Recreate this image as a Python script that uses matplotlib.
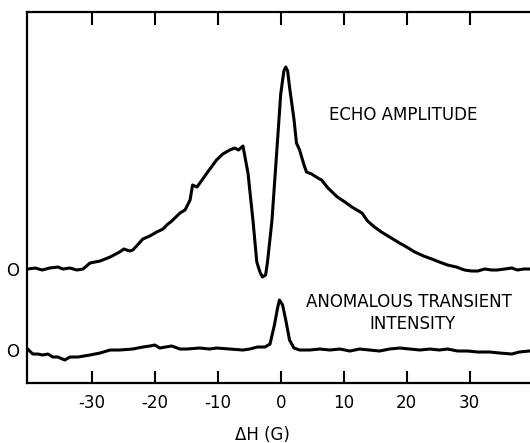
import matplotlib
matplotlib.use("Agg")
import matplotlib.pyplot as plt
import numpy as np

# Echo amplitude trace (field offset in G, amplitude arbitrary units)
echo_x = [-40.2, -39.0, -37.9, -36.7, -35.4, -34.6, -33.5, -32.4, -31.4, -30.3,
          -28.7, -27.1, -25.6, -24.9, -24.0, -23.5, -22.9, -21.9, -20.8, -19.7,
          -18.7, -18.1, -17.3, -16.0, -15.2, -14.4, -14.0, -13.3, -12.5, -11.6,
          -10.2, -9.2, -8.1, -7.3, -6.7, -6.0, -5.2, -4.4, -3.8, -3.3,
          -2.9, -2.4, -2.1, -1.4, -0.6, 0.0, 0.5, 0.8, 1.1, 1.4,
          2.1, 2.5, 3.0, 3.7, 4.1, 4.9, 5.9, 6.5, 7.5, 9.0,
          10.2, 11.3, 12.9, 13.8, 14.9, 16.0, 17.3, 18.6, 20.0, 21.3,
          22.7, 24.0, 25.2, 26.5, 27.9, 29.2, 30.3, 31.3, 32.4, 33.5,
          34.4, 35.6, 36.7, 37.6, 38.6, 39.5]
echo_y = [0, 1, -1, 1, 2, 0, 1, -1, 0, 6,
          8, 12, 17, 20, 18, 19, 23, 30, 33, 37,
          40, 44, 48, 56, 59, 69, 84, 82, 89, 97,
          109, 115, 119, 121, 119, 123, 96, 48, 7, -3,
          -8, -6, 7, 48, 120, 175, 198, 202, 198, 182,
          150, 126, 119, 104, 97, 95, 91, 89, 81, 72,
          67, 62, 56, 48, 42, 37, 32, 27, 22, 17,
          13, 10, 7, 4, 2, -1, -2, -2, 0, -1,
          -1, 0, 1, -1, 0, 0]

# Anomalous transient intensity trace
trans_x = [-40.2, -39.4, -38.6, -37.8, -37.0, -36.2, -35.4, -34.3, -33.5, -32.2,
           -30.3, -28.7, -27.1, -25.6, -23.5, -21.9, -20.8, -20.0, -19.2, -18.3,
           -17.3, -16.0, -14.9, -12.9, -11.3, -10.2, -8.1, -6.0, -4.9, -3.7,
           -2.5, -1.7, -1.0, -0.5, -0.2, 0.3, 0.8, 1.4, 2.1, 3.0,
           4.6, 6.2, 7.8, 9.4, 11.0, 12.5, 14.1, 15.7, 17.3, 18.9,
           20.5, 22.1, 23.7, 25.2, 26.5, 28.1, 29.7, 31.3, 33.2, 34.8,
           36.7, 37.9, 39.5]
trans_y = [1, -4, -4, -5, -4, -7, -7, -10, -7, -7,
           -5, -3, 0, 0, 1, 3, 4, 5, 2, 3,
           4, 1, 1, 2, 1, 2, 1, 0, 1, 3,
           3, 6, 25, 42, 50, 45, 30, 10, 2, 0,
           0, 1, 0, 1, -1, 1, 0, -1, 1, 2,
           1, 0, 1, 0, 1, -1, -1, -2, -2, -3,
           -4, -2, -1]

echo_offset = 0
trans_offset = -81
x_ticks = [-30, -20, -10, 0, 10, 20, 30]
x_ticklabels = ["-30", "-20", "-10", "0", "10", "20", "30"]

fig = plt.figure(figsize=(5.3, 4.43), dpi=100)
ax = fig.add_axes([0.051, 0.1354, 0.949, 0.8375])

lw = 2.2
ax.plot(echo_x, np.array(echo_y) + echo_offset, color="black", lw=lw,
        solid_joinstyle="round")
ax.plot(trans_x, np.array(trans_y) + trans_offset, color="black", lw=lw,
        solid_joinstyle="round")

ax.set_xlim(-40.3, 39.6)
ax.set_ylim(-114, 257)

for side in ["left", "bottom", "top"]:
    ax.spines[side].set_linewidth(1.6)
ax.spines["right"].set_visible(False)

ax.set_xticks(x_ticks)
ax.set_xticklabels(x_ticklabels)
ax.tick_params(axis="x", which="both", direction="in", length=9, width=1.5,
               top=True, bottom=True, labelsize=12, pad=8)
ax.set_yticks([echo_offset, trans_offset])
ax.set_yticklabels(["O", "O"])
ax.tick_params(axis="y", length=0, labelsize=12, pad=6)

ax.set_xlabel("ΔH (G)", fontsize=12)
ax.xaxis.set_label_coords(0.469, -0.115)

ax.text(19.5, 154, "ECHO AMPLITUDE", fontsize=12, ha="center", va="center")
ax.text(20.3, -33, "ANOMALOUS TRANSIENT", fontsize=12, ha="center", va="center")
ax.text(21.0, -55, "INTENSITY", fontsize=12, ha="center", va="center")

fig.savefig("out.png", dpi=100)
